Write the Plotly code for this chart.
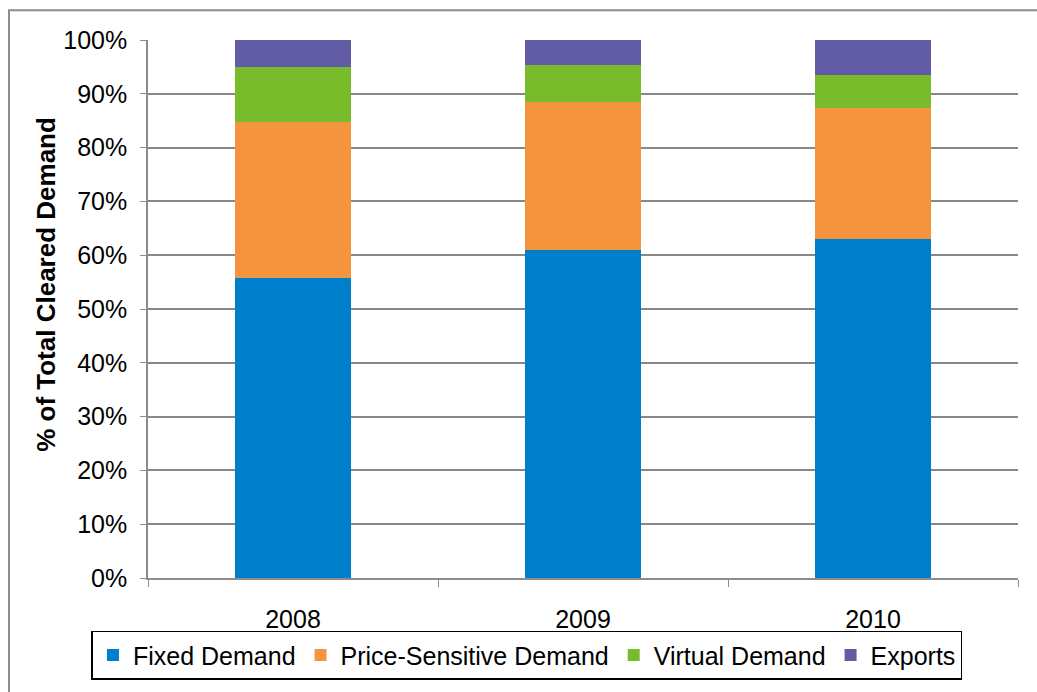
import plotly.graph_objects as go

years = ["2008", "2009", "2010"]
fixed_demand = [55.8, 61.0, 63.0]
price_sensitive = [28.9, 27.4, 24.3]
virtual_demand = [10.3, 6.9, 6.2]
exports = [5.0, 4.7, 6.5]

series = [
    ("Fixed Demand", fixed_demand, "#0080CC"),
    ("Price-Sensitive Demand", price_sensitive, "#F4943C"),
    ("Virtual Demand", virtual_demand, "#78BC2B"),
    ("Exports", exports, "#625BA6"),
]

tick_vals = [0, 10, 20, 30, 40, 50, 60, 70, 80, 90, 100]
tick_text = ["0%", "10%", "20%", "30%", "40%", "50%", "60%", "70%", "80%", "90%", "100%"]

font_family = "Liberation Sans, Arial, sans-serif"

fig = go.Figure()
for name, vals, color in series:
    fig.add_trace(go.Bar(
        x=years, y=vals, name=name,
        marker=dict(color=color, line=dict(width=0)),
        width=0.4,
    ))

fig.update_layout(
    barmode="stack",
    width=1037, height=692,
    margin=dict(l=148, r=19, t=40, b=109),
    paper_bgcolor="white", plot_bgcolor="white",
    font=dict(family=font_family, size=24, color="black"),
    showlegend=True,
    legend=dict(
        orientation="h",
        x=0.4356, xanchor="center",
        y=-0.098, yanchor="top",
        bordercolor="black", borderwidth=1.5,
        font=dict(size=25),
        traceorder="normal",
        itemwidth=30,
    ),
    xaxis=dict(
        type="category",
        showgrid=False,
        showline=True, linecolor="#8C8C8C", linewidth=1.5,
        ticks="outside", tickson="boundaries", ticklen=7, tickcolor="#8C8C8C",
        tickfont=dict(size=25),
        ticklabelstandoff=18,
        range=[-0.5, 2.5],
    ),
    yaxis=dict(
        range=[0, 100],
        tickvals=tick_vals, ticktext=tick_text,
        showgrid=True, gridcolor="#888888", gridwidth=1.5,
        showline=True, linecolor="#8C8C8C", linewidth=1.5,
        ticks="outside", ticklen=6, tickcolor="#8C8C8C",
        tickfont=dict(size=25),
        ticklabelstandoff=8,
        zeroline=False,
    ),
)

# y-axis title
fig.add_annotation(
    text="<b>% of Total Cleared Demand</b>",
    xref="paper", yref="paper",
    x=-0.1172, y=0.545, xanchor="center", yanchor="middle",
    textangle=-90, showarrow=False,
    font=dict(size=26, family=font_family, color="black"),
)

# outer chart frame (top and left edges visible)
fig.add_shape(
    type="rect", xref="paper", yref="paper",
    x0=-0.1598, x1=1.2, y0=-0.4, y1=1.0552,
    line=dict(color="#8C8C8C", width=2), fillcolor="rgba(0,0,0,0)",
    layer="below",
)

fig.write_html("out.html")
